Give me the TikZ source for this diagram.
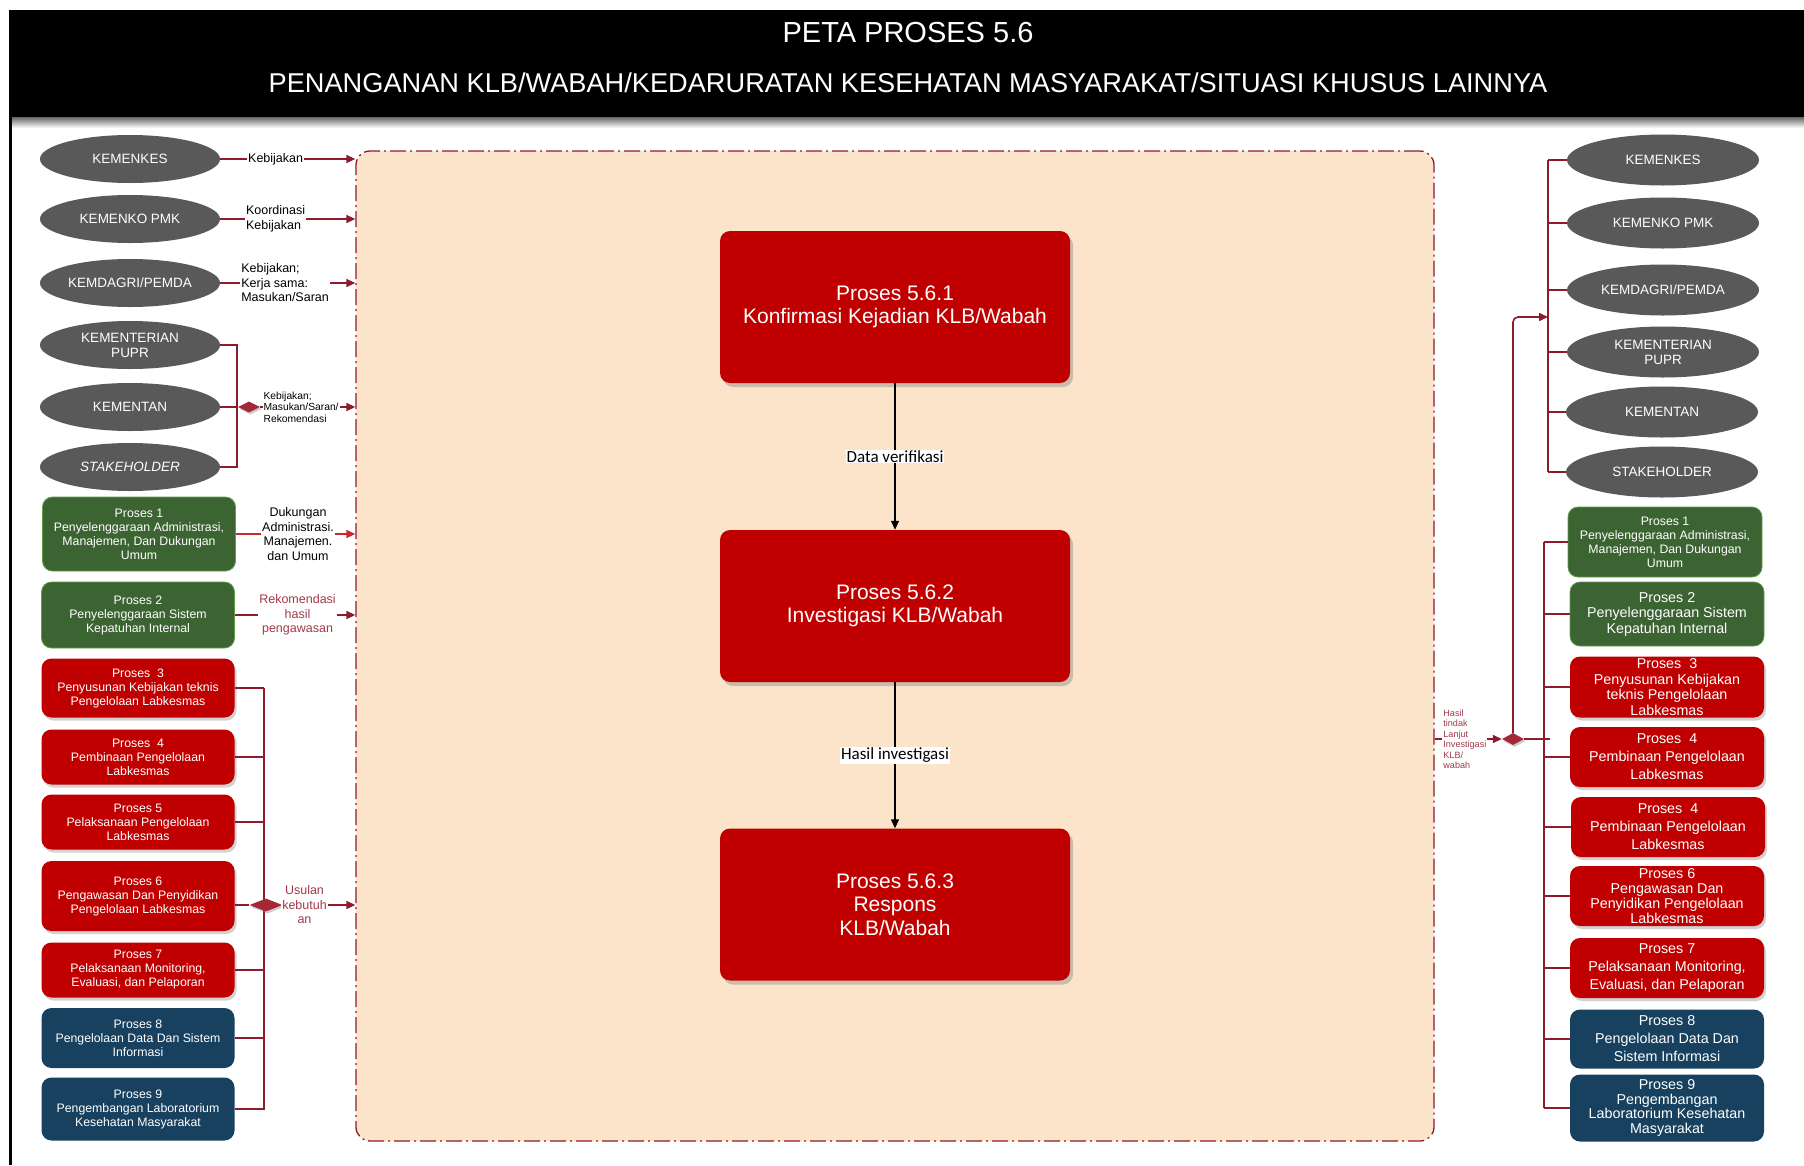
\documentclass[tikz,border=0pt]{standalone}
\usepackage{fontspec}
\setmainfont{Liberation Sans}
\newfontfamily\carl{Carlito}
\usetikzlibrary{shapes.geometric,shadows,arrows.meta,calc}
\definecolor{ellgray}{HTML}{595959}
\definecolor{boxred}{HTML}{C00000}
\definecolor{boxgreen}{HTML}{3C6432}
\definecolor{boxgreenline}{HTML}{5E9C4C}
\definecolor{boxblue}{HTML}{17415E}
\definecolor{peach}{HTML}{FCE4CA}
\definecolor{conred}{HTML}{8C1C2C}
\definecolor{brightred}{HTML}{C8282E}
\definecolor{lblred}{HTML}{A33A4A}
\definecolor{diared}{HTML}{A52838}
\begin{document}
\begin{tikzpicture}[x=1pt,y=-1pt,
  ell/.style={ellipse, fill=ellgray, text=white, minimum width=180pt, minimum height=48pt,
    inner sep=0pt, align=center, font=\fontsize{13.5}{15}\selectfont},
  pbox/.style={rectangle, rounded corners=10pt, text=white, align=center, inner sep=0pt,
    minimum width=193pt, font=\fontsize{12.3}{14}\selectfont},
  rbox/.style={pbox, minimum width=194pt, font=\fontsize{14.3}{15.5}\selectfont},
  redb/.style={fill=boxred, drop shadow={shadow xshift=2pt, shadow yshift=-3pt, opacity=0.35}},
  greenb/.style={fill=boxgreen, draw=boxgreenline, line width=0.8pt},
  blueb/.style={fill=boxblue},
  bigbox/.style={rectangle, rounded corners=10pt, fill=boxred, text=white, align=center,
    minimum width=350pt, minimum height=152pt, inner sep=0pt,
    font=\fontsize{21}{23.5}\selectfont,
    drop shadow={shadow xshift=3pt, shadow yshift=-4pt, opacity=0.4}},
  container/.style={rectangle, rounded corners=14pt, fill=peach, draw=conred, line width=1.3pt,
    dash pattern=on 16pt off 4pt on 2pt off 4pt, minimum width=1078pt, minimum height=990pt, inner sep=0pt},
  conn/.style={draw=conred, line width=1.6pt},
  arr/.style={-{Triangle[length=9pt,width=8pt]}},
  lbl/.style={fill=white, inner sep=1pt, align=left, text=black, font=\fontsize{12.5}{14.5}\selectfont},
  dia/.style={diamond, fill=diared, inner sep=0pt, minimum width=24pt, minimum height=12pt,
    drop shadow={shadow xshift=1.5pt, shadow yshift=-2pt, opacity=0.4}},
  clbl/.style={fill=white, inner sep=1pt, text=black, font=\carl\fontsize{17}{19}\selectfont}
]
\useasboundingbox (0,0) rectangle (1804,1165);
\fill[white] (0,0) rectangle (1804,1165);

% title bar
\shade[top color=black!60, bottom color=white] (9,117) rectangle (1804,128);
\fill[black] (9,10) rectangle (1804,117);
\draw[line width=3pt, black] (10,10) -- (10,1165);
\node[text=white, font=\fontsize{29}{31}\selectfont] (t1) at (908,33) {PETA PROSES 5.6};
\node[text=white, font=\fontsize{27.2}{30}\selectfont] (t2) at (908,83) {PENANGANAN KLB/WABAH/KEDARURATAN KESEHATAN MASYARAKAT/SITUASI KHUSUS LAINNYA};

% container
\node[container] (C) at (895,646) {};

% central boxes
\node[bigbox] (B1) at (895,307) {Proses 5.6.1\\Konfirmasi Kejadian KLB/Wabah};
\node[bigbox] (B2) at (895,606) {Proses 5.6.2\\Investigasi KLB/Wabah};
\node[bigbox] (B3) at (895,904.5) {Proses 5.6.3\\Respons\\KLB/Wabah};
\draw[black, line width=1.2pt, -{Triangle[length=9pt,width=8pt]}] (B1.south) -- node[clbl]{Data verifikasi} (B2.north);
\draw[black, line width=1.2pt, -{Triangle[length=9pt,width=8pt]}] (B2.south) -- node[clbl]{Hasil investigasi} (B3.north);

% left ellipses
\node[ell] (le1) at (130,159) {KEMENKES};
\node[ell] (le2) at (130,219) {KEMENKO PMK};
\node[ell] (le3) at (130,283) {KEMDAGRI/PEMDA};
\node[ell] (le4) at (130,345) {KEMENTERIAN\\PUPR};
\node[ell] (le5) at (130,407) {KEMENTAN};
\node[ell, font=\fontsize{13.5}{15}\selectfont\itshape] (le6) at (130,467) {STAKEHOLDER};

\draw[conn,arr] (le1.east) -- node[lbl,pos=0.41]{Kebijakan} (le1.east -| C.west);
\draw[conn,arr] (le2.east) -- node[lbl,pos=0.41]{Koordinasi\\Kebijakan} (le2.east -| C.west);
\draw[conn,arr] (le3.east) -- node[lbl,pos=0.48]{Kebijakan;\\Kerja sama:\\Masukan/Saran} (le3.east -| C.west);

\coordinate (lb1) at (237,345);
\coordinate (lb2) at (237,467);
\draw[conn] (le4.east) -- (lb1) -- (lb2) -- (le6.east);
\node[dia, minimum width=22pt, minimum height=11pt] (ld1) at (249,407) {};
\draw[conn] (le5.east) -- (ld1.west);
\draw[conn,arr] (ld1.east) -- node[lbl,pos=0.43,font=\fontsize{10.3}{11.5}\selectfont]{Kebijakan;\\Masukan/Saran/\\Rekomendasi} (ld1.east -| C.west);

% left process boxes
\node[pbox, greenb, minimum height=74pt] (lp1) at (139,534) {Proses 1\\Penyelenggaraan Administrasi,\\Manajemen, Dan Dukungan\\Umum};
\node[pbox, greenb, minimum height=66pt] (lp2) at (138,615) {Proses 2\\Penyelenggaraan Sistem\\Kepatuhan Internal};
\node[pbox, redb, minimum height=59pt] (lp3) at (138,688) {Proses \ 3\\Penyusunan Kebijakan teknis\\Pengelolaan Labkesmas};
\node[pbox, redb, minimum height=55pt] (lp4) at (138,757) {Proses \ 4\\Pembinaan Pengelolaan\\Labkesmas};
\node[pbox, redb, minimum height=55pt] (lp5) at (138,822) {Proses 5\\Pelaksanaan Pengelolaan\\Labkesmas};
\node[pbox, redb, minimum height=70pt] (lp6) at (138,896) {Proses 6\\Pengawasan Dan Penyidikan\\Pengelolaan Labkesmas};
\node[pbox, redb, minimum height=55pt] (lp7) at (138,970) {Proses 7\\Pelaksanaan Monitoring,\\Evaluasi, dan Pelaporan};
\node[pbox, blueb, minimum height=60pt] (lp8) at (138,1038) {Proses 8\\Pengelolaan Data Dan Sistem\\Informasi};
\node[pbox, blueb, minimum height=63pt] (lp9) at (138,1109) {Proses 9\\Pengembangan Laboratorium\\Kesehatan Masyarakat};

\draw[draw=brightred, line width=1.4pt, -{Triangle[length=9pt,width=8pt]}] (lp1.east) -- node[lbl,align=center,pos=0.52]{Dukungan\\Administrasi.\\Manajemen.\\dan Umum} (lp1.east -| C.west);
\draw[conn,arr] (lp2.east) -- node[lbl,align=center,pos=0.52,text=lblred]{Rekomendasi\\hasil\\pengawasan} (lp2.east -| C.west);

\coordinate (lb3) at (264,688);
\coordinate (lb9) at (264,1110);
\draw[conn] (lb3) -- (lb9);
\foreach \n in {3,4,5,7,8,9}{\draw[conn] (lp\n.east) -- (lp\n.east -| lb3);}
\node[dia, minimum width=33pt, minimum height=13pt] (ld2) at (266,905) {};
\draw[conn] ([yshift=-9pt]lp6.east) -- (ld2.west);
\draw[conn,arr] (ld2.east) -- node[lbl,align=center,pos=0.3,text=lblred]{Usulan\\kebutuh\\an} (ld2.east -| C.west);

% right ellipses
\tikzset{rell/.style={ell, minimum width=192pt, minimum height=51pt}}
\node[rell] (re1) at (1663,160) {KEMENKES};
\node[rell] (re2) at (1663,223) {KEMENKO PMK};
\node[rell] (re3) at (1663,290) {KEMDAGRI/PEMDA};
\node[rell] (re4) at (1663,352) {KEMENTERIAN\\PUPR};
\node[rell] (re5) at (1662,412) {KEMENTAN};
\node[rell] (re6) at (1662,472) {STAKEHOLDER};
\coordinate (rb1) at (1548,160);
\coordinate (rb6) at (1548,472);
\coordinate (rbt) at (1548,317);
\draw[conn] (rb1) -- (rb6);
\foreach \n in {1,...,6}{\draw[conn] (re\n.west -| rb1) -- (re\n.west);}

% right process boxes
\node[rbox, greenb, minimum height=70pt, font=\fontsize{12.3}{14}\selectfont] (rp1) at (1665,542) {Proses 1\\Penyelenggaraan Administrasi,\\Manajemen, Dan Dukungan\\Umum};
\node[rbox, greenb, minimum height=64pt] (rp2) at (1667,614) {Proses 2\\Penyelenggaraan Sistem\\Kepatuhan Internal};
\node[rbox, redb, minimum height=61pt] (rp3) at (1667,687) {Proses \ 3\\Penyusunan Kebijakan\\teknis Pengelolaan\\Labkesmas};
\node[rbox, redb, minimum height=60pt, font=\fontsize{14.3}{18}\selectfont] (rp4) at (1667,757) {Proses \ 4\\Pembinaan Pengelolaan\\Labkesmas};
\node[rbox, redb, minimum height=60pt, font=\fontsize{14.3}{18}\selectfont] (rp5) at (1668,827) {Proses \ 4\\Pembinaan Pengelolaan\\Labkesmas};
\node[rbox, redb, minimum height=60pt, font=\fontsize{14.3}{15}\selectfont] (rp6) at (1667,896) {Proses 6\\Pengawasan Dan\\Penyidikan Pengelolaan\\Labkesmas};
\node[rbox, redb, minimum height=60pt, font=\fontsize{14.3}{18}\selectfont] (rp7) at (1667,968) {Proses 7\\Pelaksanaan Monitoring,\\Evaluasi, dan Pelaporan};
\node[rbox, blueb, minimum height=59pt, font=\fontsize{14.3}{18}\selectfont] (rp8) at (1667,1039) {Proses 8\\Pengelolaan Data Dan\\Sistem Informasi};
\node[rbox, blueb, minimum height=67pt, font=\fontsize{14.3}{14.5}\selectfont] (rp9) at (1667,1108) {Proses 9\\Pengembangan\\Laboratorium Kesehatan\\Masyarakat};

\coordinate (rq1) at (1544,542);
\coordinate (rq9) at (1544,1108);
\draw[conn] (rq1) -- (rq9);
\foreach \n in {1,...,9}{\draw[conn] (rp\n.west -| rq1) -- (rp\n.west);}

\node[dia, minimum width=22pt, minimum height=12pt] (rd) at (1513,739) {};
\coordinate (rj) at (1550,739);
\draw[conn] (rd.east) -- (rj);
\draw[conn,arr,rounded corners=5pt] (rd.north) |- (rbt);
\draw[conn,arr] (C.east |- rd) -- node[lbl,pos=0.45,text=lblred,font=\fontsize{9.1}{10.5}\selectfont]{Hasil\\tindak\\Lanjut\\Investigasi\\KLB/\\wabah} (rd.west);
\end{tikzpicture}
\end{document}
